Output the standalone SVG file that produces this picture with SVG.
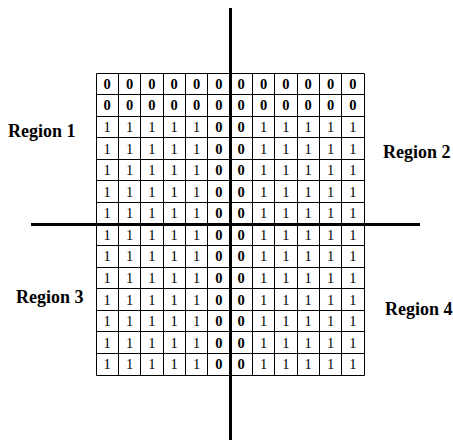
<svg xmlns="http://www.w3.org/2000/svg" width="453" height="442" viewBox="0 0 453 442">
<style>
.d{font-family:"Liberation Serif","Times New Roman",serif;font-size:14.5px;text-anchor:middle;fill:#000}
.b{font-weight:bold}
.lbl{font-family:"Liberation Serif","Times New Roman",serif;font-size:18px;font-weight:bold;fill:#000}
.grid{fill:none;stroke:#000;stroke-width:1}
.axis{stroke:#000;stroke-width:3;fill:none}
</style>
<rect width="453" height="442" fill="#fff"/>
<g id="grid">
<path class="grid" d="M96.5 73.5H364.5V375.5H96.5Z M118.5 73.5V375.5 M140.5 73.5V375.5 M163.5 73.5V375.5 M185.5 73.5V375.5 M207.5 73.5V375.5 M252.5 73.5V375.5 M274.5 73.5V375.5 M297.5 73.5V375.5 M319.5 73.5V375.5 M341.5 73.5V375.5 M96.5 94.5H364.5 M96.5 116.5H364.5 M96.5 137.5H364.5 M96.5 159.5H364.5 M96.5 180.5H364.5 M96.5 202.5H364.5 M96.5 245.5H364.5 M96.5 267.5H364.5 M96.5 288.5H364.5 M96.5 310.5H364.5 M96.5 331.5H364.5 M96.5 353.5H364.5"/>
<g id="values" class="d">
<text class="b" x="107.2 129.5 151.8 174.2 196.5 218.8 241.2 263.5 285.8 308.2 330.5 352.8" y="88.8">000000000000</text>
<text class="b" x="107.2 129.5 151.8 174.2 196.5 218.8 241.2 263.5 285.8 308.2 330.5 352.8" y="110.4">000000000000</text>
<text y="131.9"><tspan x="107.2 129.5 151.8 174.2 196.5">11111</tspan><tspan class="b" x="218.8 241.2">00</tspan><tspan x="263.5 285.8 308.2 330.5 352.8">11111</tspan></text>
<text y="153.5"><tspan x="107.2 129.5 151.8 174.2 196.5">11111</tspan><tspan class="b" x="218.8 241.2">00</tspan><tspan x="263.5 285.8 308.2 330.5 352.8">11111</tspan></text>
<text y="175.1"><tspan x="107.2 129.5 151.8 174.2 196.5">11111</tspan><tspan class="b" x="218.8 241.2">00</tspan><tspan x="263.5 285.8 308.2 330.5 352.8">11111</tspan></text>
<text y="196.6"><tspan x="107.2 129.5 151.8 174.2 196.5">11111</tspan><tspan class="b" x="218.8 241.2">00</tspan><tspan x="263.5 285.8 308.2 330.5 352.8">11111</tspan></text>
<text y="218.2"><tspan x="107.2 129.5 151.8 174.2 196.5">11111</tspan><tspan class="b" x="218.8 241.2">00</tspan><tspan x="263.5 285.8 308.2 330.5 352.8">11111</tspan></text>
<text y="239.8"><tspan x="107.2 129.5 151.8 174.2 196.5">11111</tspan><tspan class="b" x="218.8 241.2">00</tspan><tspan x="263.5 285.8 308.2 330.5 352.8">11111</tspan></text>
<text y="261.4"><tspan x="107.2 129.5 151.8 174.2 196.5">11111</tspan><tspan class="b" x="218.8 241.2">00</tspan><tspan x="263.5 285.8 308.2 330.5 352.8">11111</tspan></text>
<text y="282.9"><tspan x="107.2 129.5 151.8 174.2 196.5">11111</tspan><tspan class="b" x="218.8 241.2">00</tspan><tspan x="263.5 285.8 308.2 330.5 352.8">11111</tspan></text>
<text y="304.5"><tspan x="107.2 129.5 151.8 174.2 196.5">11111</tspan><tspan class="b" x="218.8 241.2">00</tspan><tspan x="263.5 285.8 308.2 330.5 352.8">11111</tspan></text>
<text y="326.1"><tspan x="107.2 129.5 151.8 174.2 196.5">11111</tspan><tspan class="b" x="218.8 241.2">00</tspan><tspan x="263.5 285.8 308.2 330.5 352.8">11111</tspan></text>
<text y="347.6"><tspan x="107.2 129.5 151.8 174.2 196.5">11111</tspan><tspan class="b" x="218.8 241.2">00</tspan><tspan x="263.5 285.8 308.2 330.5 352.8">11111</tspan></text>
<text y="369.2"><tspan x="107.2 129.5 151.8 174.2 196.5">11111</tspan><tspan class="b" x="218.8 241.2">00</tspan><tspan x="263.5 285.8 308.2 330.5 352.8">11111</tspan></text>
</g>
</g>
<g id="axes">
<line class="axis" x1="230.5" y1="8" x2="230.5" y2="440"/>
<line class="axis" x1="31" y1="224.5" x2="420" y2="224.5"/>
</g>
<g id="region1"><text class="lbl" x="8" y="137">Region 1</text></g>
<g id="region2"><text class="lbl" x="383" y="158">Region 2</text></g>
<g id="region3"><text class="lbl" x="16" y="303">Region 3</text></g>
<g id="region4"><text class="lbl" x="385" y="315">Region 4</text></g>
</svg>
